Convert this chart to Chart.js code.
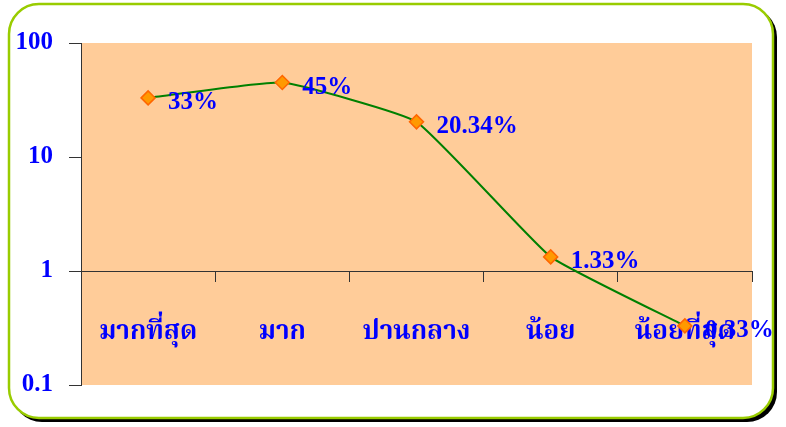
<!DOCTYPE html>
<html>
<head>
<meta charset="utf-8">
<script src="https://cdn.jsdelivr.net/npm/chart.js@4"></script>
<style>
  html, body { margin: 0; padding: 0; background: #fff; }
  #wrap { width: 786px; height: 427px; position: relative; }
</style>
</head>
<body>
<div id="wrap"><canvas id="chart"></canvas></div>
<script>
const categories = ["มากที่สุด", "มาก", "ปานกลาง", "น้อย", "น้อยที่สุด"];
const percentValues = [33, 45, 20.34, 1.33, 0.33];
const yTicks = [0.1, 1, 10, 100];

const serif = "'Liberation Serif', 'Times New Roman', 'Noto Serif Thai', 'Noto Sans Thai', serif";

// rounded frame with dark shadow + peach plot area
const framePlugin = {
  id: "frame",
  beforeDraw(chart) {
    const { ctx, chartArea: a } = chart;
    const roundRect = (x, y, w, h, r) => {
      ctx.beginPath();
      ctx.moveTo(x + r, y);
      ctx.arcTo(x + w, y, x + w, y + h, r);
      ctx.arcTo(x + w, y + h, x, y + h, r);
      ctx.arcTo(x, y + h, x, y, r);
      ctx.arcTo(x, y, x + w, y, r);
      ctx.closePath();
    };
    ctx.save();
    roundRect(12, 7, 765, 415, 30);
    ctx.fillStyle = "#000";
    ctx.fill();
    roundRect(9, 4, 764, 414, 30);
    ctx.fillStyle = "#fff";
    ctx.fill();
    ctx.lineWidth = 2.5;
    ctx.strokeStyle = "#99CC00";
    ctx.stroke();
    ctx.fillStyle = "#FFCC99";
    ctx.fillRect(a.left, a.top, a.right - a.left, a.bottom - a.top);
    ctx.restore();
  },
};

const valueLabelPlugin = {
  id: "valueLabels",
  afterDatasetsDraw(chart) {
    const { ctx } = chart;
    const meta = chart.getDatasetMeta(0);
    ctx.save();
    ctx.font = "bold 25px " + serif;
    ctx.fillStyle = "#0000FF";
    ctx.textBaseline = "middle";
    ctx.textAlign = "left";
    meta.data.forEach((pt, i) => {
      ctx.fillText(percentValues[i] + "%", pt.x + 20, pt.y + 5);
    });
    ctx.restore();
  },
};

new Chart(document.getElementById("chart"), {
  type: "line",
  data: {
    labels: categories,
    datasets: [
      {
        data: percentValues,
        borderColor: "#008000",
        borderWidth: 2,
        tension: 0.12,
        pointStyle: "rectRot",
        pointRadius: 7,
        pointBackgroundColor: "#FF9900",
        pointBorderColor: "#FF6600",
        pointBorderWidth: 1.5,
      },
    ],
  },
  options: {
    responsive: true,
    maintainAspectRatio: false,
    animation: false,
    layout: { padding: { top: 43, right: 34, bottom: 42, left: 0 } },
    plugins: { legend: { display: false }, tooltip: { enabled: false } },
    scales: {
      x: {
        position: { y: 1 },
        offset: true,
        grid: { drawOnChartArea: false, offset: true, tickLength: 10, color: "#333" },
        border: { color: "#333", width: 1 },
        ticks: {
          color: "#0000FF",
          font: { family: serif, size: 26, weight: "bold" },
          padding: 36,
          maxRotation: 0,
          autoSkip: false,
        },
      },
      y: {
        type: "logarithmic",
        min: 0.1,
        max: 100,
        afterBuildTicks: (axis) => {
          axis.ticks = yTicks.map((v) => ({ value: v }));
        },
        afterFit: (axis) => {
          axis.width = 81;
        },
        grid: { drawOnChartArea: false, tickLength: 12, color: "#333" },
        border: { color: "#333", width: 1 },
        ticks: {
          color: "#0000FF",
          font: { family: serif, size: 25, weight: "bold" },
          padding: 16,
          callback: (v) => String(v),
        },
      },
    },
  },
  plugins: [framePlugin, valueLabelPlugin],
});
</script>
</body>
</html>
